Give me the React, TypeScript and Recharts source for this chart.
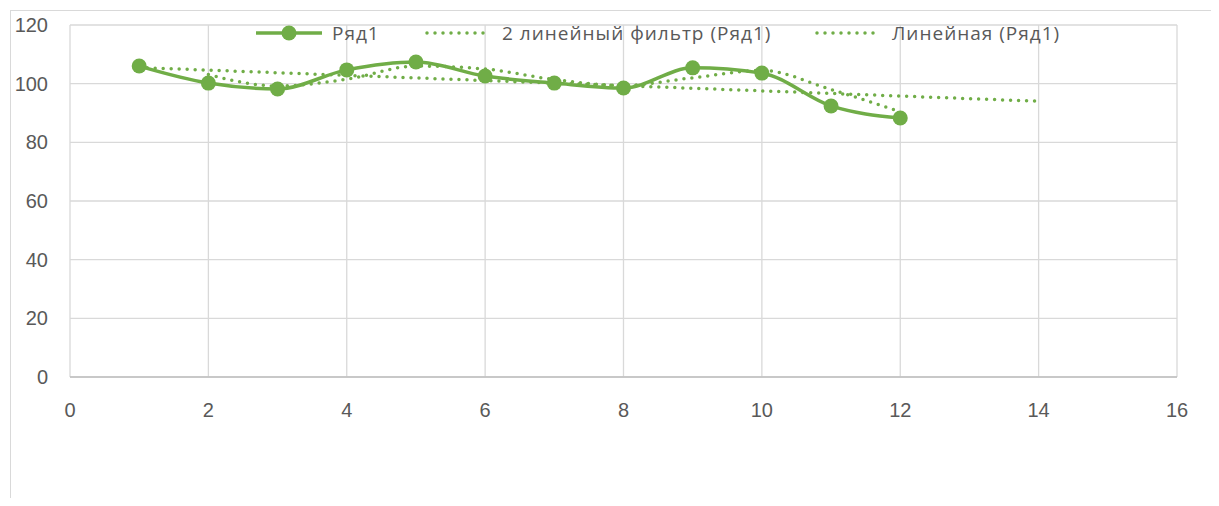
import { LineChart, Line, XAxis, YAxis, CartesianGrid, Legend } from "recharts";

// x positions (1..12 observed, 13-14 only for the trend forecast)
const xValues = [1, 2, 3, 4, 5, 6, 7, 8, 9, 10, 11, 12, 13, 14];
const seriesValues = [106.0, 100.2, 98.2, 104.7, 107.4, 102.6, 100.2, 98.5, 105.4, 103.6, 92.4, 88.3, null, null];
const movingAvgValues = [null, 103.1, 99.2, 101.5, 106.0, 105.0, 101.4, 99.4, 102.0, 104.5, 98.0, 90.4, null, null];
const trendValues = [105.5, null, null, null, null, null, null, null, null, null, null, null, null, 94.0];

const xTicks = [0, 2, 4, 6, 8, 10, 12, 14, 16];
const yTicks = [0, 20, 40, 60, 80, 100, 120];

const seriesName = "Ряд1";
const movingAvgName = "2 линейный фильтр (Ряд1)";
const trendName = "Линейная (Ряд1)";

const GREEN = "#70ad47";
const TEXT = "#595959";
const FONT = "'Liberation Sans', Arial, sans-serif";
const LEGEND_FONT = "'Open Sans', 'Liberation Sans', sans-serif";

const rows = xValues.map((x, i) => ({
  x,
  y: seriesValues[i],
  ma: movingAvgValues[i],
  trend: trendValues[i],
}));

// legend entries: label, solid?, slot width
const legendItems: [string, boolean, number][] = [
  [seriesName, true, 170],
  [movingAvgName, false, 390],
  [trendName, false, 290],
];

function LegendContent() {
  return (
    <div
      style={{
        display: "flex",
        paddingLeft: 255,
        height: 22,
        alignItems: "center",
        fontFamily: LEGEND_FONT,
        fontSize: 19,
        letterSpacing: 1,
        color: TEXT,
        whiteSpace: "nowrap",
      }}
    >
      {legendItems.map(([label, solid, w]) => (
        <div key={label} style={{ display: "flex", alignItems: "center", width: w }}>
          <svg width={68} height={16} style={{ marginRight: 9, flexShrink: 0 }}>
            {solid ? (
              <>
                <line x1={1} y1={8} x2={67} y2={8} stroke={GREEN} strokeWidth={3.5} />
                <circle cx={34} cy={8} r={7.5} fill={GREEN} />
              </>
            ) : (
              <line
                x1={2}
                y1={8}
                x2={66}
                y2={8}
                stroke={GREEN}
                strokeWidth={3.5}
                strokeDasharray="0 8"
                strokeLinecap="round"
              />
            )}
          </svg>
          <span>{label}</span>
        </div>
      ))}
    </div>
  );
}

export default function App() {
  return (
    <div
      style={{
        position: "relative",
        width: 1219,
        height: 506,
        margin: -8,
        overflow: "hidden",
        background: "#fff",
      }}
    >
      <div
        style={{
          position: "absolute",
          left: 10,
          top: 10,
          width: 1250,
          height: 540,
          border: "1px solid #d9d9d9",
        }}
      />
      <div style={{ position: "absolute", left: 0, top: 0 }}>
        <LineChart
          width={1219}
          height={506}
          data={rows}
          margin={{ top: 25, right: 42, left: 0, bottom: 0 }}
        >
          <CartesianGrid stroke="#d9d9d9" strokeWidth={1.3} />
          <XAxis
            type="number"
            dataKey="x"
            domain={[0, 16]}
            ticks={xTicks}
            height={129}
            tickLine={false}
            tickSize={0}
            tickMargin={26}
            axisLine={{ stroke: "#bfbfbf", strokeWidth: 1.5 }}
            tick={{ fill: TEXT, fontSize: 20, fontFamily: FONT }}
            interval={0}
          />
          <YAxis
            type="number"
            domain={[0, 120]}
            ticks={yTicks}
            width={70}
            tickLine={false}
            tickSize={0}
            tickMargin={22}
            axisLine={false}
            tick={{ fill: TEXT, fontSize: 20, fontFamily: FONT }}
            interval={0}
          />
          <Legend
            verticalAlign="middle"
            content={() => <LegendContent />}
            wrapperStyle={{ top: 22, left: 0, width: 1219 }}
          />
          <Line
            type="linear"
            dataKey="trend"
            name={trendName}
            stroke={GREEN}
            strokeWidth={3.5}
            strokeDasharray="0 8"
            strokeLinecap="round"
            dot={false}
            connectNulls
            isAnimationActive={false}
          />
          <Line
            type="monotone"
            dataKey="ma"
            name={movingAvgName}
            stroke={GREEN}
            strokeWidth={3.5}
            strokeDasharray="0 8"
            strokeLinecap="round"
            dot={false}
            isAnimationActive={false}
          />
          <Line
            type="monotone"
            dataKey="y"
            name={seriesName}
            stroke={GREEN}
            strokeWidth={3.5}
            dot={{ r: 7.5, fill: GREEN, stroke: GREEN, strokeWidth: 0 }}
            isAnimationActive={false}
          />
        </LineChart>
      </div>
    </div>
  );
}
